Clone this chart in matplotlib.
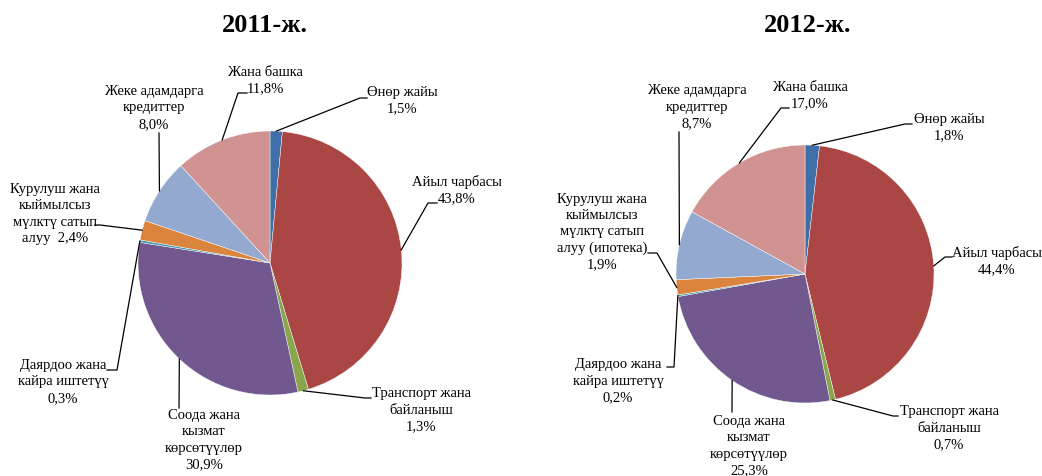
import numpy as np
import matplotlib
matplotlib.use('Agg')
import matplotlib.pyplot as plt

plt.rcParams['font.family'] = ['Liberation Serif', 'DejaVu Serif']

# slices go clockwise from 12 o'clock
labels_2011 = ['Өнөр жайы\n{}', 'Айыл чарбасы\n{}', 'Транспорт жана\nбайланыш\n{}',
               'Соода жана\nкызмат\nкөрсөтүүлөр\n{}', 'Даярдоо жана\nкайра иштетүү\n{}',
               'Курулуш жана\nкыймылсыз\nмүлктү сатып\nалуу  {}', 'Жеке адамдарга\nкредиттер\n{}',
               'Жана башка\n{}']
labels_2012 = ['Өнөр жайы\n{}', 'Айыл чарбасы\n{}', 'Транспорт жана\nбайланыш\n{}',
               'Соода жана\nкызмат\nкөрсөтүүлөр\n{}', 'Даярдоо жана\nкайра иштетүү\n{}',
               'Курулуш жана\nкыймылсыз\nмүлктү сатып\nалуу (ипотека)\n{}', 'Жеке адамдарга\nкредиттер\n{}',
               'Жана башка\n{}']
values_2011 = [1.5, 43.8, 1.3, 30.9, 0.3, 2.4, 8.0, 11.8]
values_2012 = [1.8, 44.4, 0.7, 25.3, 0.2, 1.9, 8.7, 17.0]

colors = ['#3E6FA8', '#AA4643', '#89A54E', '#71588F', '#4198AF', '#DB843D', '#93A9CF', '#D19392']

W, H = 1042, 476

# layout in pixel coords (top-left origin): label centre, elbow, line end
layout_2011 = {
    'center': (270, 263), 'radius': 132, 'title': (265, 25),
    'text': [(402, 101), (457, 190), (421, 410), (204, 440), (63, 382), (55, 214), (154, 108), (265, 81)],
    'elbow': [(360, 98), (428, 203), (365, 398), None, (117, 370), (100, 225), None, (238, 93)],
    'end': [(367, 98), (437, 203), (371, 398), (179, 408), (107, 370), (95, 225), (159, 133), (247, 93)],
}
layout_2012 = {
    'center': (805, 274), 'radius': 129, 'title': (808, 25),
    'text': [(949, 128), (997, 261), (949, 428), (749, 446), (618, 381), (602, 232), (697, 107), (810, 96)],
    'elbow': [(905, 124), (945, 257), (893, 416), None, (674, 367), (657, 253), None, (781, 108)],
    'end': [(912, 124), (952, 257), (898, 416), (732, 412), (667, 367), (648, 253), (679, 132), (789, 108)],
}


def fmt(v):
    return '{:.1f}%'.format(v).replace('.', ',')


def draw_pie(ax, title, values, labels, lay):
    cx, cy = lay['center']
    r = lay['radius']
    ax.pie(values, colors=colors, startangle=90, counterclock=False,
           center=(cx, H - cy), radius=r,
           wedgeprops=dict(edgecolor='white', linewidth=0.3))
    ax.text(lay['title'][0], H - lay['title'][1], title, fontsize=19, fontweight='bold',
            ha='center', va='center')

    total = float(sum(values))
    cum = 0.0
    for i, v in enumerate(values):
        mid = cum + v / 2.0
        cum += v
        ang = np.deg2rad(90 - 360 * mid / total)
        px = cx + r * np.cos(ang)
        py = H - cy + r * np.sin(ang)
        xs, ys = [px], [py]
        if lay['elbow'][i] is not None:
            xs.append(lay['elbow'][i][0])
            ys.append(H - lay['elbow'][i][1])
        xs.append(lay['end'][i][0])
        ys.append(H - lay['end'][i][1])
        ax.plot(xs, ys, color='black', lw=0.9)
        tx, ty = lay['text'][i]
        ax.text(tx, H - ty, labels[i].format(fmt(v)), fontsize=10.5, ha='center', va='center',
                linespacing=1.32)


fig = plt.figure(figsize=(W / 100, H / 100), dpi=100)
ax = fig.add_axes([0, 0, 1, 1])

draw_pie(ax, '2011-ж.', values_2011, labels_2011, layout_2011)
draw_pie(ax, '2012-ж.', values_2012, labels_2012, layout_2012)

ax.set_xlim(0, W)
ax.set_ylim(0, H)
ax.set_aspect('auto')
ax.axis('off')

fig.savefig('out.png', dpi=100)
